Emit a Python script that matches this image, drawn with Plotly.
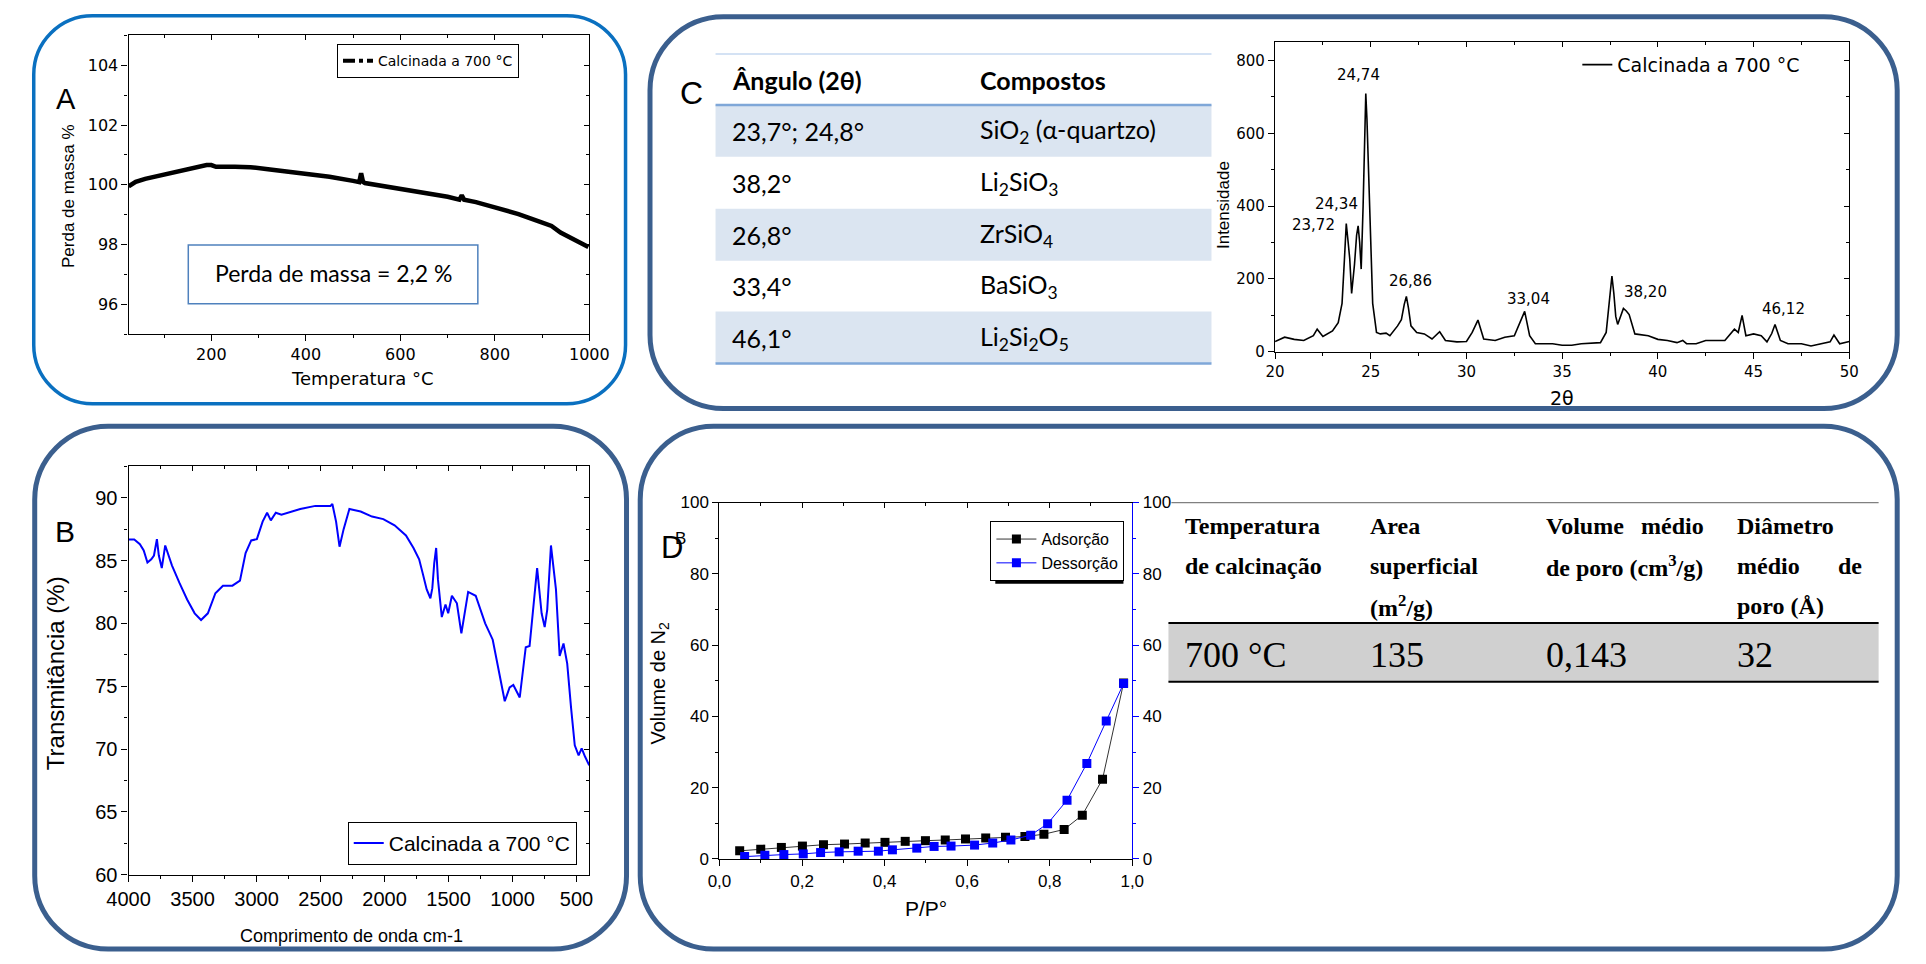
import plotly.graph_objects as go

W, H = 1926, 964

# ---------------- data ----------------
# Panel A - TGA
tga_temp = [25, 40, 60, 100, 150, 175, 190, 200, 210, 250, 283, 320, 360, 403, 450, 500, 513, 517, 519, 521,
            525, 560, 598, 650, 700, 725, 730, 735, 760, 798, 850, 896, 920, 939, 970, 998]
tga_mass = [99.95, 100.1, 100.2, 100.35, 100.5, 100.62, 100.66, 100.66, 100.6, 100.6, 100.59, 100.52, 100.45,
            100.37, 100.27, 100.13, 100.09, 100.39, 100.3, 100.1, 100.06, 99.97, 99.85, 99.72, 99.6, 99.5, 99.65,
            99.5, 99.42, 99.25, 99.02, 98.76, 98.62, 98.4, 98.15, 97.92]

# Panel B - FTIR
ftir_wn = [4000, 3956, 3912, 3882, 3853, 3823, 3802, 3779, 3764, 3741, 3714, 3690, 3661, 3602, 3543, 3484, 3434,
           3381, 3322, 3263, 3189, 3130, 3086, 3042, 2998, 2953, 2918, 2889, 2850, 2806, 2659, 2541, 2423, 2408,
           2379, 2352, 2320, 2275, 2187, 2098, 2010, 1922, 1833, 1774, 1730, 1700, 1671, 1642, 1627, 1612, 1597,
           1583, 1553, 1524, 1503, 1474, 1435, 1400, 1377, 1347, 1288, 1214, 1155, 1111, 1061, 1023, 994, 944,
           897, 867, 838, 808, 773, 749, 729, 700, 661, 632, 602, 573, 543, 514, 484, 460, 434, 401]
ftir_t = [86.67, 86.67, 86.3, 85.8, 84.84, 85.1, 85.4, 86.7, 85.4, 84.4, 86.2, 85.5, 84.6, 83.2, 81.9, 80.8, 80.27,
          80.8, 82.4, 83.0, 83.0, 83.4, 85.6, 86.6, 86.7, 88.1, 88.8, 88.2, 88.8, 88.65, 89.1, 89.35, 89.35, 89.5,
          88.1, 86.1, 87.5, 89.1, 88.9, 88.5, 88.3, 87.8, 87.0, 86.0, 85.1, 83.9, 82.7, 82.0, 82.8, 84.8, 86.0,
          83.5, 80.5, 81.5, 80.8, 82.2, 81.6, 79.2, 80.5, 82.5, 82.2, 80.0, 78.7, 76.5, 73.8, 74.9, 75.1, 74.1,
          78.1, 78.2, 81.1, 84.4, 80.8, 79.7, 81.1, 86.2, 82.7, 77.4, 78.4, 76.8, 73.3, 70.3, 69.5, 70.05, 69.4, 68.7]

# Panel C - XRD
xrd_2theta = [20.0, 20.5, 21.0, 21.5, 22.0, 22.2, 22.5, 23.0, 23.3, 23.5, 23.62, 23.72, 23.82, 23.9, 24.0, 24.15,
              24.26, 24.34, 24.42, 24.5, 24.6, 24.68, 24.74, 24.8, 24.9, 25.0, 25.1, 25.3, 25.5, 25.8, 26.0, 26.4,
              26.6, 26.75, 26.86, 26.97, 27.1, 27.4, 27.8, 28.2, 28.6, 28.9, 29.5, 30.0, 30.3, 30.6, 30.9, 31.5,
              32.0, 32.5, 32.8, 33.04, 33.3, 33.6, 34.0, 34.5, 35.0, 35.5, 36.0, 37.0, 37.3, 37.5, 37.6, 37.7, 37.8,
              37.9, 38.05, 38.2, 38.35, 38.5, 38.8, 39.5, 40.0, 40.5, 41.0, 41.3, 41.5, 42.0, 42.5, 43.0, 43.5, 44.0,
              44.2, 44.4, 44.6, 45.0, 45.4, 45.7, 45.95, 46.12, 46.4, 46.8, 47.5, 48.0, 48.5, 49.0, 49.2, 49.5, 50.0]
xrd_int = [28, 40, 34, 31, 44, 62, 42, 57, 80, 133, 250, 352, 300, 256, 160, 240, 320, 346, 300, 227, 400, 620, 709,
           640, 486, 300, 133, 53, 49, 51, 44, 71, 88, 130, 152, 120, 71, 53, 49, 35, 55, 31, 27, 28, 53, 87, 35, 31,
           40, 44, 80, 111, 44, 22, 22, 22, 18, 18, 22, 25, 53, 150, 208, 160, 97, 75, 100, 119, 112, 102, 49, 44,
           34, 31, 25, 31, 22, 22, 31, 31, 31, 62, 53, 100, 44, 49, 44, 27, 50, 75, 31, 22, 22, 16, 22, 27, 46, 22, 28]
xrd_peak_labels = ["24,74", "24,34", "23,72", "26,86", "33,04", "38,20", "46,12"]
xrd_label_x = [24.38, 23.2, 22.0, 27.1, 33.24, 39.35, 46.57]
xrd_label_y = [760, 405, 349, 194, 146, 164, 117]

xrd_table_angles = ["23,7°; 24,8°", "38,2°", "26,8°", "33,4°", "46,1°"]
xrd_table_compounds = ["SiO<sub>2</sub> (α-quartzo)", "Li<sub>2</sub>SiO<sub>3</sub>", "ZrSiO<sub>4</sub>",
                       "BaSiO<sub>3</sub>", "Li<sub>2</sub>Si<sub>2</sub>O<sub>5</sub>"]

# Panel D - N2 isotherm
ads_p = [0.049, 0.100, 0.150, 0.201, 0.252, 0.303, 0.353, 0.401, 0.450, 0.499, 0.547, 0.596, 0.645, 0.693,
         0.740, 0.786, 0.835, 0.879, 0.928, 0.979]
ads_v = [2.29, 2.76, 3.24, 3.62, 4.0, 4.19, 4.48, 4.67, 4.95, 5.14, 5.33, 5.62, 5.9, 6.1, 6.29, 6.95, 8.29,
         12.3, 22.4, 49.4]
des_p = [0.061, 0.110, 0.156, 0.203, 0.245, 0.290, 0.336, 0.385, 0.419, 0.478, 0.520, 0.561, 0.618, 0.662,
         0.706, 0.754, 0.795, 0.842, 0.890, 0.937, 0.979]
des_v = [0.67, 1.05, 1.24, 1.43, 1.81, 2.0, 2.19, 2.19, 2.57, 3.05, 3.52, 3.62, 3.9, 4.48, 5.33, 6.67, 9.9,
         16.5, 26.8, 38.7, 49.2]
pp_ticks = [0, 0.2, 0.4, 0.6, 0.8, 1.0]
pp_ticktext = ["0,0", "0,2", "0,4", "0,6", "0,8", "1,0"]

bet_values = ["700 °C", "135", "0,143", "32"]

# ---------------- helpers ----------------
SANS = "Liberation Sans, Arial, sans-serif"
WIDE = "DejaVu Sans, Verdana, sans-serif"
CAL = "Lato, Carlito, sans-serif"
SERIF = "Liberation Serif, Times New Roman, serif"


def px(x):
    return x / W


def py(y):
    return 1 - y / H


def rrect_path(x0, y0, x1, y1, r):
    k = 0.5523 * r
    pts = [
        f"M {px(x0 + r)},{py(y0)}",
        f"L {px(x1 - r)},{py(y0)}",
        f"C {px(x1 - r + k)},{py(y0)} {px(x1)},{py(y0 + r - k)} {px(x1)},{py(y0 + r)}",
        f"L {px(x1)},{py(y1 - r)}",
        f"C {px(x1)},{py(y1 - r + k)} {px(x1 - r + k)},{py(y1)} {px(x1 - r)},{py(y1)}",
        f"L {px(x0 + r)},{py(y1)}",
        f"C {px(x0 + r - k)},{py(y1)} {px(x0)},{py(y1 - r + k)} {px(x0)},{py(y1 - r)}",
        f"L {px(x0)},{py(y0 + r)}",
        f"C {px(x0)},{py(y0 + r - k)} {px(x0 + r - k)},{py(y0)} {px(x0 + r)},{py(y0)} Z",
    ]
    return " ".join(pts)


def axis(**kw):
    base = dict(showline=True, linecolor="black", linewidth=1.3, ticks="outside", ticklen=6, tickwidth=1.2,
                tickcolor="black", showgrid=False, zeroline=False, tickfont=dict(family=SANS, size=16, color="black"))
    base.update(kw)
    return base


def minor(dt, t0=0, ticks="outside", color="black"):
    return dict(ticks=ticks, ticklen=3, tickwidth=1, tickcolor=color, dtick=dt, tick0=t0, showgrid=False)


def mirror_axis(over, side, anchor, rng, dt, mdt, t0=0):
    # inside ticks on the opposite (top / right) side of a frame
    return dict(overlaying=over, side=side, anchor=anchor, range=rng, dtick=dt, tick0=t0, ticks="inside",
                ticklen=5, tickwidth=1.1, tickcolor="black", showticklabels=False, showline=False,
                showgrid=False, zeroline=False, minor=minor(mdt, t0, ticks="inside"))


annotations = []
shapes = []


def text(x, y, s, size, family=SANS, xanchor="left", angle=0, color="black", yanchor="middle"):
    annotations.append(dict(x=px(x), y=py(y), xref="paper", yref="paper", text=s, showarrow=False,
                            xanchor=xanchor, yanchor=yanchor, textangle=angle,
                            font=dict(family=family, size=size, color=color)))


def rect(x0, y0, x1, y1, fill=None, line=None, lw=0, layer="above"):
    shapes.append(dict(type="rect", xref="paper", yref="paper", x0=px(x0), x1=px(x1), y0=py(y1), y1=py(y0),
                       fillcolor=fill if fill else "rgba(0,0,0,0)",
                       line=dict(color=line if line else "rgba(0,0,0,0)", width=lw), layer=layer))


def hline(x0, x1, y, color, lw):
    shapes.append(dict(type="line", xref="paper", yref="paper", x0=px(x0), x1=px(x1), y0=py(y), y1=py(y),
                       line=dict(color=color, width=lw)))


fig = go.Figure()

# ---------------- traces ----------------
fig.add_trace(go.Scatter(x=tga_temp, y=tga_mass, mode="lines", line=dict(color="black", width=4.5),
                         showlegend=False, xaxis="x", yaxis="y"))
fig.add_trace(go.Scatter(x=[None], y=[None], mode="lines", name="Calcinada a 700 °C",
                         line=dict(color="black", width=4, dash="dashdot"), legend="legend", xaxis="x", yaxis="y"))

fig.add_trace(go.Scatter(x=xrd_2theta, y=xrd_int, mode="lines", name="Calcinada a 700 °C",
                         line=dict(color="black", width=1.6), legend="legend2", xaxis="x2", yaxis="y2"))

fig.add_trace(go.Scatter(x=ftir_wn, y=ftir_t, mode="lines", name="Calcinada a 700 °C",
                         line=dict(color="#0000ff", width=2), legend="legend3", xaxis="x3", yaxis="y3"))

fig.add_trace(go.Scatter(x=ads_p, y=ads_v, mode="lines+markers", name="Adsorção",
                         line=dict(color="#333333", width=1), marker=dict(symbol="square", size=9, color="black"),
                         legend="legend4", xaxis="x4", yaxis="y4"))
fig.add_trace(go.Scatter(x=des_p, y=des_v, mode="lines+markers", name="Dessorção",
                         line=dict(color="#0000ff", width=1), marker=dict(symbol="square", size=9, color="#0000ff"),
                         legend="legend4", xaxis="x4", yaxis="y5"))

# empty helper traces so the mirrored tick axes are drawn
for xa, ya in [("x6", "y6"), ("x7", "y7"), ("x8", "y8"), ("x9", "y4")]:
    fig.add_trace(go.Scatter(x=[None], y=[None], mode="lines", showlegend=False, hoverinfo="skip",
                             xaxis=xa, yaxis=ya))

# XRD peak labels
for lab, lx, ly in zip(xrd_peak_labels, xrd_label_x, xrd_label_y):
    annotations.append(dict(x=lx, y=ly, xref="x2", yref="y2", text=lab, showarrow=False,
                            font=dict(family=WIDE, size=15, color="black")))

# ---------------- panel borders ----------------
for (x0, y0, x1, y1, r, col, lw) in [(12, 7, 617, 403, 60, "#0a70c0", 3.5),
                                      (13, 426, 618, 960, 75, "#3b5f8e", 5),
                                      (642, 8, 1917, 408, 75, "#3b5f8e", 5),
                                      (632, 426, 1917, 960, 75, "#3b5f8e", 5)]:
    shapes.append(dict(type="path", xref="paper", yref="paper", path=rrect_path(x0, y0, x1, y1, r),
                       line=dict(color=col, width=lw), fillcolor="rgba(0,0,0,0)"))

# ---------------- panel A extras ----------------
rect(170, 241, 466, 301, line="#4f81bd", lw=1.5)
text(318, 270, "Perda de massa = 2,2 %", 23, family=CAL, xanchor="center")
text(45, 92, "A", 29, xanchor="center")
text(47, 191, "Perda de massa %", 17, xanchor="center", angle=-90)
text(348, 377, "Temperatura °C", 18, family=WIDE, xanchor="center")

# ---------------- panel C table ----------------
row_top = [98, 151, 204, 257, 309]
row_bot = [151, 204, 257, 309, 362]
for i in (0, 2, 4):
    rect(709, row_top[i], 1216, row_bot[i], fill="#dbe5f1", layer="below")
hline(709, 1216, 46, "#c6d9f1", 1.5)
hline(709, 1216, 98, "#7fa7d8", 2.5)
hline(709, 1216, 362, "#7fa7d8", 2.5)
text(724, 72, "<b>Ângulo (2θ)</b>", 25, family=CAL)
text(977, 72, "<b>Compostos</b>", 25, family=CAL)
for i in range(5):
    yc = (row_top[i] + row_bot[i]) / 2
    text(724, yc, xrd_table_angles[i], 25, family=CAL)
    text(977, yc, xrd_table_compounds[i], 25, family=CAL)
text(684, 86, "C", 32, xanchor="center")
text(1229, 200, "Intensidade", 17, xanchor="center", angle=-90)
text(1574, 397, "2θ", 19, family=WIDE, xanchor="center")

# ---------------- panel B extras ----------------
text(44, 534, "B", 30, xanchor="center")
text(35, 678, "Transmitância (%)", 24, xanchor="center", angle=-90)
text(337, 947, "Comprimento de onda cm-1", 18, xanchor="center")

# ---------------- panel D extras ----------------
text(665, 550, "D", 31, xanchor="center")
text(673, 541, "B", 17, xanchor="center")
text(652, 688, "Volume de N<sub>2</sub>", 20, xanchor="center", angle=-90)
text(924, 919, "P/P°", 21, xanchor="center")
# legend drop shadow
rect(995, 528, 1126, 587, fill="black")

# D table
hline(1175, 1898, 504, "#808080", 1.2)
rect(1172, 627, 1898, 687, fill="#d0d0d0", layer="below")
hline(1172, 1898, 627, "black", 2)
hline(1172, 1898, 687, "black", 2)
HB = 24
text(1187, 528, "<b>Temperatura</b>", HB, family=SERIF)
text(1187, 569, "<b>de calcinação</b>", HB, family=SERIF)
text(1376, 528, "<b>Area</b>", HB, family=SERIF)
text(1376, 569, "<b>superficial</b>", HB, family=SERIF)
text(1376, 610, "<b>(m<sup>2</sup>/g)</b>", HB, family=SERIF)
text(1556, 528, "<b>Volume</b>", HB, family=SERIF)
text(1722, 528, "<b>médio</b>", HB, family=SERIF, xanchor="right")
text(1556, 569, "<b>de poro (cm<sup>3</sup>/g)</b>", HB, family=SERIF)
text(1751, 528, "<b>Diâmetro</b>", HB, family=SERIF)
text(1751, 569, "<b>médio</b>", HB, family=SERIF)
text(1883, 569, "<b>de</b>", HB, family=SERIF, xanchor="right")
text(1751, 610, "<b>poro (Å)</b>", HB, family=SERIF)
for xv, val in zip([1187, 1376, 1556, 1751], bet_values):
    text(xv, 660, val, 36, family=SERIF)

# ---------------- layout ----------------
A_X, A_Y = [25, 1000], [95, 105]
C_X, C_Y = [20, 50], [0, 850]
B_X, B_Y = [4000, 400], [60, 92.5]
D_X, D_Y = [0, 1], [0, 100]

fig.update_layout(
    width=W, height=H, margin=dict(l=0, r=0, t=0, b=0),
    paper_bgcolor="white", plot_bgcolor="rgba(0,0,0,0)",
    font=dict(family=SANS, color="black"),
    xaxis=axis(domain=[px(109), px(580)], range=A_X, dtick=200, tick0=0, minor=minor(100), mirror=True,
               anchor="y", tickfont=dict(family=WIDE, size=16, color="black")),
    yaxis=axis(domain=[py(332), py(27)], range=A_Y, dtick=2, tick0=0, minor=minor(1), mirror=True,
               anchor="x", tickfont=dict(family=WIDE, size=16, color="black")),
    xaxis2=axis(domain=[px(1281), px(1868)], range=C_X, dtick=5, minor=minor(2.5), mirror=True, anchor="y2",
                tickfont=dict(family=WIDE, size=15, color="black")),
    yaxis2=axis(domain=[py(350), py(34)], range=C_Y, dtick=200, minor=minor(100), mirror=True, anchor="x2",
                tickfont=dict(family=WIDE, size=15, color="black")),
    xaxis3=axis(domain=[px(109), px(580)], range=B_X, dtick=500, minor=minor(250), mirror=True,
                anchor="y3", tickfont=dict(family=SANS, size=20, color="black")),
    yaxis3=axis(domain=[py(884), py(467)], range=B_Y, dtick=5, minor=minor(2.5), mirror=True, anchor="x3",
                tickfont=dict(family=SANS, size=20, color="black")),
    xaxis4=axis(domain=[px(713), px(1135)], range=D_X, tickmode="array", tickvals=pp_ticks,
                ticktext=pp_ticktext, minor=dict(ticks="outside", ticklen=3, tickcolor="black",
                                                  tickvals=[0.1, 0.3, 0.5, 0.7, 0.9]),
                mirror=True, anchor="y4", tickfont=dict(family=SANS, size=17, color="black")),
    yaxis4=axis(domain=[py(868), py(504)], range=D_Y, dtick=20, minor=minor(10), anchor="x4",
                tickfont=dict(family=SANS, size=17, color="black")),
    yaxis5=axis(overlaying="y4", side="right", anchor="x4", range=D_Y, dtick=20, linecolor="#0000ff",
                tickcolor="#0000ff", minor=dict(ticks="outside", ticklen=3, tickcolor="#0000ff", dtick=10),
                tickfont=dict(family=SANS, size=17, color="black")),
    # mirrored inside ticks (top / right)
    xaxis6=mirror_axis("x", "top", "y", A_X, 200, 100),
    yaxis6=mirror_axis("y", "right", "x", A_Y, 2, 1),
    xaxis7=mirror_axis("x2", "top", "y2", C_X, 5, 2.5),
    yaxis7=mirror_axis("y2", "right", "x2", C_Y, 200, 100),
    xaxis8=mirror_axis("x3", "top", "y3", B_X, 500, 250),
    yaxis8=mirror_axis("y3", "right", "x3", B_Y, 5, 2.5),
    xaxis9=mirror_axis("x4", "top", "y4", D_X, 0.2, 0.1),
    legend=dict(x=px(322), y=py(36), xanchor="left", yanchor="top", bgcolor="white", bordercolor="black",
                borderwidth=1, font=dict(family=WIDE, size=14, color="black"), itemwidth=30,
                tracegroupgap=0),
    legend2=dict(x=px(1590), y=py(57), xanchor="left", yanchor="middle", bgcolor="rgba(0,0,0,0)",
                 borderwidth=0, font=dict(family=WIDE, size=19, color="black")),
    legend3=dict(x=px(333), y=py(830), xanchor="left", yanchor="top", bgcolor="white", bordercolor="black",
                 borderwidth=1, font=dict(family=SANS, size=21, color="black")),
    legend4=dict(x=px(990), y=py(523), xanchor="left", yanchor="top", bgcolor="white", bordercolor="black",
                 borderwidth=1, font=dict(family=SANS, size=16, color="black"), tracegroupgap=0, itemwidth=40),
    annotations=annotations,
    shapes=shapes,
)

fig.write_html("out.html")
